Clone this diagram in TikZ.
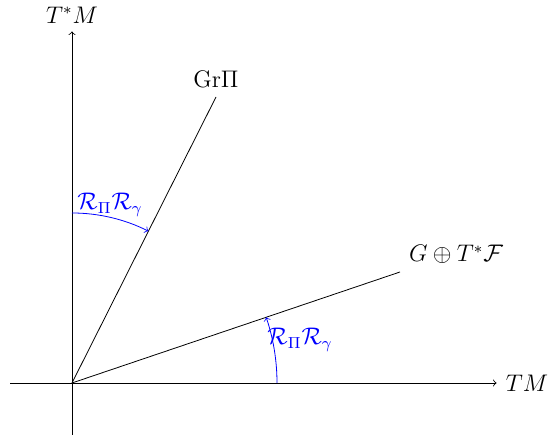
\documentclass[tikz,border=0pt]{standalone}
\usepackage{amsmath,amssymb}
\usepackage{tikz}
\usetikzlibrary{positioning,calc}

\begin{document}
\begin{tikzpicture}[
    x=0.5pt, y=0.5pt,
    every node/.style={font=\large},
    axisEdge/.style={draw=black, ->},
    planeEdge/.style={draw=black},
    rotEdge/.style={draw=blue, ->},
    rotLabel/.style={text=blue, inner sep=1pt}
]
    \useasboundingbox (-72,-59) rectangle (476,383);

    % axes
    \coordinate (O) at (0,0);
    \coordinate (xStart) at (-62,0);
    \coordinate (yStart) at (0,-52);
    \node [inner sep=0pt] (xEnd) at (426,0) {};
    \node [inner sep=0pt] (yEnd) at (0,353) {};
    \node [inner sep=1pt] (tm) at (455,0) {$TM$};
    \node [inner sep=1pt] (tsm) at (0,368) {$T^*M$};
    \path [axisEdge] (xStart) -- (xEnd);
    \path [axisEdge] (yStart) -- (yEnd);

    % the two subbundles
    \coordinate (grEnd) at (144,286);
    \coordinate (gEnd) at (328,111);
    \node [above=1pt of grEnd] (grLabel) {$\mathrm{Gr}\Pi$};
    \node [anchor=south west] (gLabel) at (330,112) {$G\oplus T^*\mathcal{F}$};
    \path [planeEdge] (O) -- (grEnd);
    \path [planeEdge] (O) -- (gEnd);

    % rotations
    \coordinate (arcLow) at (205,0);
    \coordinate (arcHigh) at (0,170);
    \path [rotEdge] (arcLow) arc [start angle=0, end angle=18.7, radius=205];
    \path [rotEdge] (arcHigh) arc [start angle=90, end angle=63.3, radius=170];
    \node [rotLabel] (rotLow) at (228,43) {$\mathcal{R}_\Pi\mathcal{R}_\gamma$};
    \node [rotLabel] (rotHigh) at (38,178) {$\mathcal{R}_\Pi\mathcal{R}_\gamma$};
\end{tikzpicture}
\end{document}
